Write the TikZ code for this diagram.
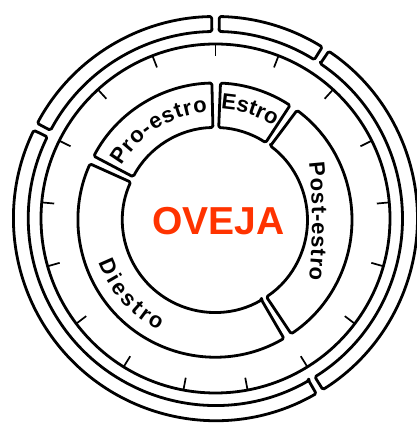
\documentclass[tikz,border=0pt]{standalone}
\usepackage{fontspec}
\setmainfont{Liberation Sans}
\usetikzlibrary{decorations.text}
\usepackage{xcolor}
\definecolor{oveja}{HTML}{FF3300}

\begin{document}
\begin{tikzpicture}[
    x=1pt, y=1pt,
    seg/.style={draw, line width=2.8pt, rounded corners=1.5pt, line join=round},
    daytick/.style={draw, line width=1.7pt},
    phaselabel/.style={decorate, decoration={text along path, text align={fit to path},
                       text={|\bfseries\fontsize{22}{22}\selectfont|#1}}},
  ]
    \useasboundingbox (0,0) rectangle (417,428);
    \coordinate (cO) at (215.5,209.5);
    \coordinate (cI) at (215,208);

    % outer band, day circle and ticks
    \begin{scope}[shift={(cO)}]
      \foreach \a/\b in {153/90, 90/57, 57/-59, -59/-207}
        \draw[seg] ({\a-1.1}:187) -- ({\a-1.1}:202)
          arc[start angle=\a-1.1, end angle=\b+1.1, radius=202]
          -- ({\b+1.1}:187)
          arc[start angle=\b+1.1, end angle=\a-1.1, radius=187] -- cycle;
      \draw[seg] (0,0) circle[radius=174.5];
      \foreach \k in {0,...,16}
        \draw[daytick] ({90-\k*360/17}:174.5) -- ({90-\k*360/17}:162);
    \end{scope}

    \begin{scope}[shift={(cI)}]
      \foreach \a/\b in {154/89.5, 89.5/55, 55/-58, -58/-206}
        \draw[seg] ({\a-1.8}:92.5) -- ({\a-1.8}:137)
          arc[start angle=\a-1.8, end angle=\b+1.8, radius=137]
          -- ({\b+1.8}:92.5)
          arc[start angle=\b+1.8, end angle=\a-1.8, radius=92.5] -- cycle;
      \path[phaselabel=Pro-estro] (150:108) arc[start angle=150, end angle=94, radius=108];
      \path[phaselabel=Estro] (87:111) arc[start angle=87, end angle=58, radius=111];
      \path[phaselabel=Post-estro] (94,57) .. controls (98,20) and (98,-23) .. (94,-60);
      \path[phaselabel=Diestro] (200:124) arc[start angle=200, end angle=243, radius=124];
    \end{scope}

    \node[font=\bfseries\fontsize{39}{39}\selectfont, text=oveja] (oveja) at (218.5,207) {OVEJA};
  \end{tikzpicture}
\end{document}
